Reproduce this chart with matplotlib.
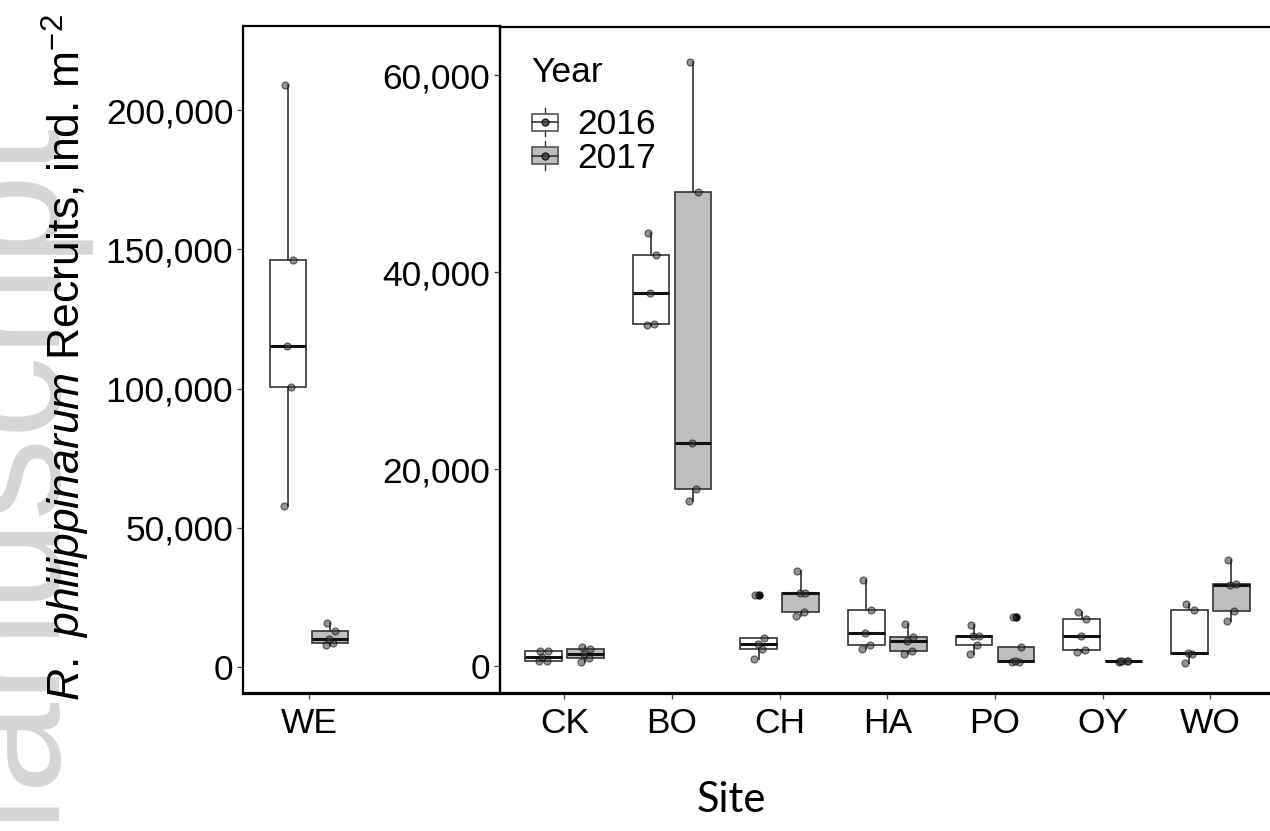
import numpy as np
import matplotlib
matplotlib.use("Agg")
import matplotlib.pyplot as plt
from matplotlib.legend_handler import HandlerBase
from matplotlib.patches import Rectangle
from matplotlib.lines import Line2D
from matplotlib.ticker import FuncFormatter

plt.rcParams['font.family'] = ['Liberation Sans', 'DejaVu Sans']
plt.rcParams['mathtext.fontset'] = 'custom'
plt.rcParams['mathtext.rm'] = 'Liberation Sans'
plt.rcParams['mathtext.it'] = 'Liberation Sans:italic'
plt.rcParams['mathtext.bf'] = 'Liberation Sans:bold'

# ---------------- data ----------------
years = ['2016', '2017']
left_sites = ['WE']
right_sites = ['CK', 'BO', 'CH', 'HA', 'PO', 'OY', 'WO']

left_2016 = [[57800, 100500, 115300, 146100, 209000]]          # WE
left_2017 = [[7900, 8700, 9900, 13000, 15700]]                 # WE

right_2016 = [
    [480, 540, 940, 1500, 1540],          # CK
    [34600, 34700, 37900, 41700, 44000],  # BO
    [680, 1720, 2200, 2870, 7170],        # CH
    [1690, 2130, 3400, 5710, 8720],       # HA
    [1220, 2130, 3000, 3070, 4130],       # PO
    [1450, 1620, 3010, 4770, 5510],       # OY
    [270, 1250, 1300, 5710, 6290],        # WO
]
right_2017 = [
    [400, 810, 1190, 1750, 1900],         # CK
    [16760, 17980, 22640, 48160, 61350],  # BO
    [5070, 5450, 7370, 7430, 9660],       # CH
    [1220, 1520, 2550, 2970, 4260],       # HA
    [370, 400, 540, 1900, 4940],          # PO
    [420, 460, 500, 520, 560],            # OY
    [4530, 5610, 8210, 8350, 10750],      # WO
]

left_yticks = [0, 50000, 100000, 150000, 200000]
right_yticks = [0, 20000, 40000, 60000]

# ---------------- style ----------------
W, H = 1270, 831
FILL = {'2016': 'white', '2017': '#bebebe'}
EDGE = '#333333'
BOXW = 0.34
DODGE = 0.195
JITTER = [-0.04, 0.03, -0.01, 0.045, -0.03]
FS = 25.5

fig = plt.figure(figsize=(W / 100, H / 100), dpi=100)

# watermark
fig.text(60 / W, 1 - 128 / H, 'Author Manuscript', rotation=90, rotation_mode='anchor',
         ha='right', va='baseline', fontsize=118, color='#d6d6d6', zorder=0)

ax_l = fig.add_axes([243 / W, (H - 693) / H, (500 - 243) / W, (693 - 26) / H])
ax_r = fig.add_axes([500 / W, (H - 693) / H, (1270 - 500) / W + 0.002, (693 - 27) / H])
for a in (ax_l, ax_r):
    a.patch.set_alpha(0)


def draw(ax, sites, d16, d17):
    pos = np.arange(1, len(sites) + 1)
    for yr, data, off in (('2016', d16, -DODGE), ('2017', d17, DODGE)):
        ax.boxplot(data, positions=pos + off, widths=BOXW, patch_artist=True,
                   whis=1.5, manage_ticks=False,
                   boxprops=dict(facecolor=FILL[yr], edgecolor=EDGE, linewidth=1.2),
                   medianprops=dict(color='#111111', linewidth=2.2),
                   whiskerprops=dict(color=EDGE, linewidth=1.2),
                   capprops=dict(linewidth=0),
                   flierprops=dict(marker='o', markerfacecolor='#111111',
                                   markeredgecolor='#111111', markersize=5))
        for p, vals in zip(pos + off, data):
            xs = [p + JITTER[i % len(JITTER)] for i in range(len(vals))]
            ax.scatter(xs, vals, s=26, facecolor='#3a3a3a', edgecolor='black',
                       linewidth=0.8, alpha=0.55, zorder=4)
    ax.set_xticks(pos)
    ax.set_xticklabels(sites)


draw(ax_l, left_sites, left_2016, left_2017)
draw(ax_r, right_sites, right_2016, right_2017)

ax_l.set_xlim(0.387, 2.775)
ax_l.set_ylim(-9340, 230200)
ax_l.set_yticks(left_yticks)
ax_r.set_xlim(0.402, 7.579)
ax_r.set_ylim(-2740, 64900)
ax_r.set_yticks(right_yticks)

fmt = FuncFormatter(lambda v, p: f"{int(round(v)):,}")
for a in (ax_l, ax_r):
    a.yaxis.set_major_formatter(fmt)
    a.tick_params(axis='both', labelsize=FS, length=4, width=0.9, color='#444444',
                  labelcolor='black', pad=3)
    a.tick_params(axis='x', pad=6)
    for s in a.spines.values():
        s.set_color('black')
    a.spines['left'].set_linewidth(1.6)
    a.spines['top'].set_linewidth(1.6)
    a.spines['bottom'].set_linewidth(2.3)

ax_l.spines['right'].set_linewidth(1.6)
ax_r.spines['right'].set_visible(False)


# legend
class BoxKeyHandler(HandlerBase):
    def __init__(self, face):
        super().__init__()
        self.face = face

    def create_artists(self, legend, orig_handle, xdescent, ydescent, width, height,
                       fontsize, trans):
        x0, y0 = -xdescent, -ydescent
        cx = x0 + width / 2
        b0, b1 = y0 + 0.2 * height, y0 + 0.8 * height
        ym = (b0 + b1) / 2
        return [
            Line2D([cx, cx], [y0, b0], color=EDGE, lw=1.0, transform=trans),
            Line2D([cx, cx], [b1, y0 + height], color=EDGE, lw=1.0, transform=trans),
            Rectangle((x0, b0), width, b1 - b0, facecolor=self.face, edgecolor='#555555',
                      lw=1.2, transform=trans),
            Line2D([x0, x0 + width], [ym, ym], color='#333333', lw=1.2, transform=trans),
            Line2D([cx], [ym], marker='o', ms=5, mfc='#3a3a3a', mec='black', alpha=0.8,
                   ls='', transform=trans),
        ]


h1 = Rectangle((0, 0), 1, 1)
h2 = Rectangle((0, 0), 1, 1)
leg = ax_r.legend(handles=[h1, h2], labels=years, loc='upper left',
                  bbox_to_anchor=(532 / W, 1 - 108 / H), bbox_transform=fig.transFigure,
                  frameon=False, fontsize=FS, handlelength=0.72,
                  handleheight=0.85, handletextpad=0.55, labelspacing=0.0,
                  borderpad=0, borderaxespad=0,
                  handler_map={h1: BoxKeyHandler(FILL['2016']), h2: BoxKeyHandler(FILL['2017'])})
fig.text(531 / W, 1 - 73 / H, 'Year', ha='left', va='center', fontsize=FS, color='black')

# labels
fig.text(66 / W, 1 - 358 / H,
         r"$\mathit{R.\ philippinarum}$ Recruits, ind. m$^{-2}$",
         rotation=90, ha='center', va='center', fontsize=32, color='black')
fig.text(731 / W, 1 - 800 / H, 'Site', ha='center', va='center', fontsize=30,
         family=['Lato', 'DejaVu Sans'], color='black')

fig.savefig('out.png', dpi=100)
